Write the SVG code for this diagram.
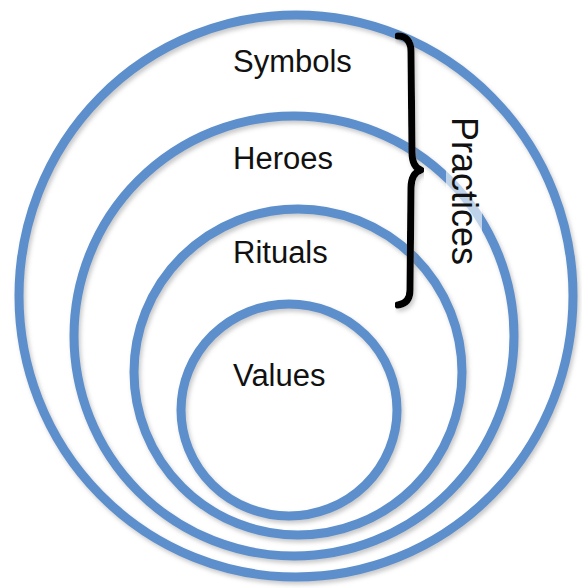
<svg xmlns="http://www.w3.org/2000/svg" width="582" height="588" viewBox="0 0 582 588">
  <style>
    .ring { fill: none; stroke: #5b8fcb; stroke-width: 9; }
    .lbl { font-family: "Liberation Sans", Arial, Helvetica, sans-serif; font-size: 31px; fill: #111111; }
    .brace { fill: none; stroke: #000000; stroke-width: 7; stroke-linecap: round; stroke-linejoin: round; }
  </style>
  <defs>
    <filter id="shadow" x="-10%" y="-10%" width="120%" height="120%">
      <feDropShadow dx="2" dy="3" stdDeviation="2" flood-color="#888888" flood-opacity="0.45"/>
    </filter>
  </defs>
  <rect width="582" height="588" fill="#ffffff"/>
  <g id="rings" filter="url(#shadow)">
    <g id="symbols-ring"><ellipse class="ring" cx="296" cy="296" rx="277" ry="281"/></g>
    <g id="heroes-ring"><ellipse class="ring" cx="294" cy="336" rx="220" ry="220"/></g>
    <g id="rituals-ring"><ellipse class="ring" cx="298" cy="372" rx="164" ry="163"/></g>
    <g id="values-ring"><ellipse class="ring" cx="289" cy="410" rx="108" ry="106"/></g>
  </g>
  <rect x="446" y="112" width="36" height="156" rx="8" fill="#ffffff" fill-opacity="0.6"/>
  <g id="labels">
    <g id="symbols"><text class="lbl" x="233" y="72">Symbols</text></g>
    <g id="heroes"><text class="lbl" x="233" y="169">Heroes</text></g>
    <g id="rituals"><text class="lbl" x="233" y="263">Rituals</text></g>
    <g id="values"><text class="lbl" x="233" y="386">Values</text></g>
  </g>
  <g id="practices" filter="url(#shadow)">
    <path class="brace" d="M398,36 C406,36 411,41 411,52 L412,152 C412,162 415,168 421,170 C415,172 411,178 411,188 L410,290 C410,299 406,304 398,305"/>
  </g>
  <g id="practices-label">
    <text class="lbl" style="font-size:36px" transform="translate(452,117) rotate(90)">Practices</text>
  </g>
</svg>
